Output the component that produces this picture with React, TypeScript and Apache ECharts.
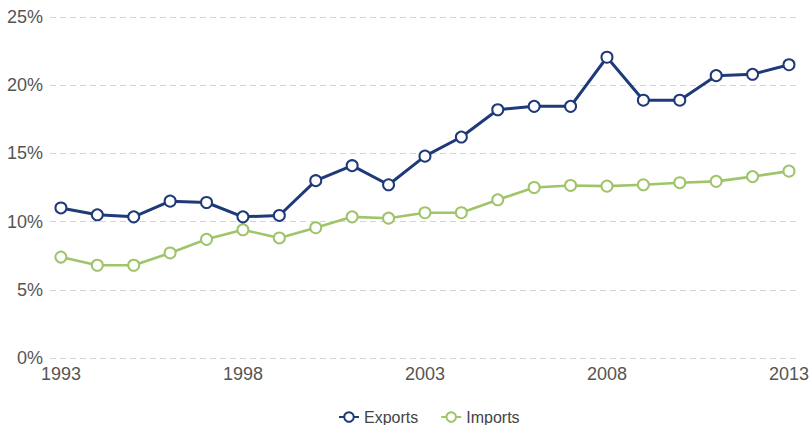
import React, { useEffect, useRef } from "react";
import * as echarts from "echarts";

const years = [1993, 1994, 1995, 1996, 1997, 1998, 1999, 2000, 2001, 2002, 2003, 2004, 2005, 2006, 2007, 2008, 2009, 2010, 2011, 2012, 2013];
const exportsPct = [11.0, 10.5, 10.35, 11.5, 11.4, 10.35, 10.45, 13.0, 14.1, 12.7, 14.8, 16.2, 18.2, 18.45, 18.45, 22.05, 18.9, 18.9, 20.7, 20.8, 21.5];
const importsPct = [7.4, 6.8, 6.8, 7.7, 8.7, 9.4, 8.8, 9.55, 10.35, 10.25, 10.65, 10.65, 11.6, 12.5, 12.65, 12.6, 12.7, 12.85, 12.95, 13.3, 13.7];
const xTickLabels = [1993, 1998, 2003, 2008, 2013];

const NAVY = "#1e3a78";
const GREEN = "#9fc46a";
const FONT = "Liberation Sans, Arial, sans-serif";

export default function App() {
  const ref = useRef<HTMLDivElement>(null);
  useEffect(() => {
    if (!ref.current) return;
    const chart = echarts.init(ref.current, undefined, { renderer: "svg" });
    chart.setOption({
      animation: false,
      grid: { left: 50, right: 12, top: 17, bottom: 67, containLabel: false },
      legend: {
        left: 333,
        top: 404,
        itemWidth: 20,
        itemHeight: 12,
        itemGap: 22,
        textStyle: { fontFamily: FONT, fontSize: 16, color: "#444" },
        data: ["Exports", "Imports"],
      },
      xAxis: {
        type: "value",
        min: 1992.7,
        max: 2013.19,
        axisLine: { show: false },
        axisTick: { show: false },
        splitLine: { show: false },
        axisLabel: {
          customValues: xTickLabels,
          formatter: (v: number) => String(v),
          fontFamily: FONT,
          fontSize: 18,
          color: "#555",
          margin: 7,
        },
      },
      yAxis: {
        type: "value",
        min: 0,
        max: 25,
        interval: 5,
        axisLine: { show: false },
        axisTick: { show: false },
        axisLabel: {
          formatter: "{value}%",
          fontFamily: FONT,
          fontSize: 18,
          color: "#555",
          margin: 7,
        },
        splitLine: { lineStyle: { type: [6, 4], color: "#d4d4d4", width: 1.2 } },
      },
      series: [
        {
          name: "Exports",
          type: "line",
          data: years.map((y, i) => [y, exportsPct[i]]),
          symbol: "circle",
          symbolSize: 11,
          lineStyle: { color: NAVY, width: 3 },
          itemStyle: { color: "#fff", borderColor: NAVY, borderWidth: 2 },
          z: 3,
        },
        {
          name: "Imports",
          type: "line",
          data: years.map((y, i) => [y, importsPct[i]]),
          symbol: "circle",
          symbolSize: 11,
          lineStyle: { color: GREEN, width: 2.6 },
          itemStyle: { color: "#fff", borderColor: GREEN, borderWidth: 2 },
          z: 2,
        },
      ],
    });
    return () => chart.dispose();
  }, []);
  return (
    <div
      ref={ref}
      style={{ position: "fixed", left: 0, top: 0, width: 812, height: 425, background: "#fff" }}
    />
  );
}
